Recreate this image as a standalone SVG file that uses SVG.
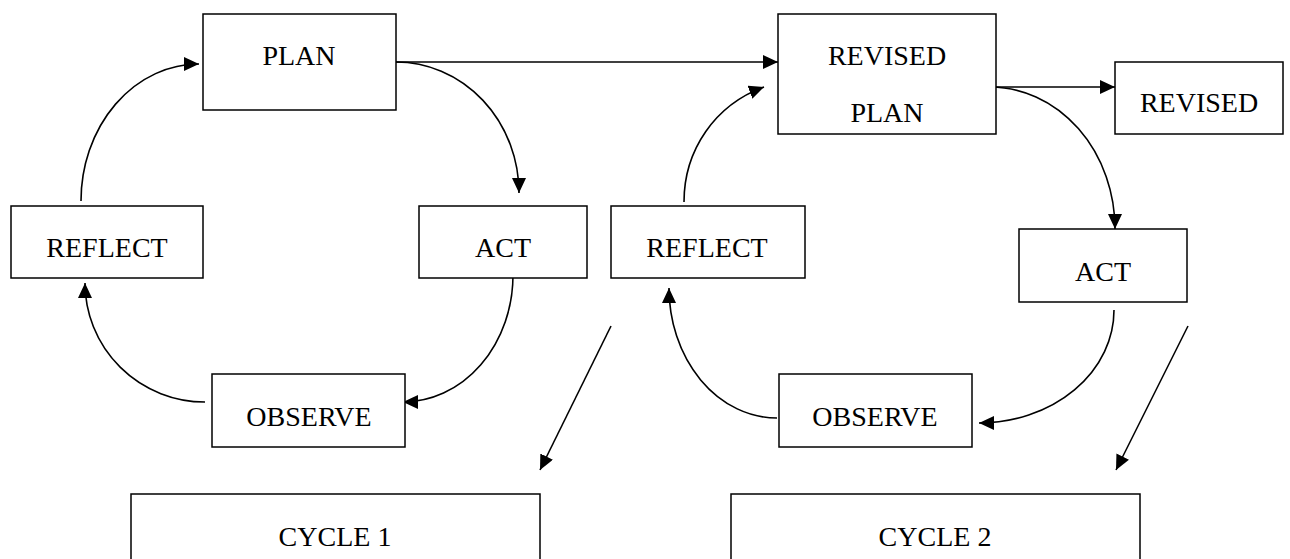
<svg xmlns="http://www.w3.org/2000/svg" width="1290" height="559" viewBox="0 0 1290 559">
<style>
.box{fill:#fff;stroke:#000;stroke-width:1.5}
.lbl{font-family:"Liberation Serif","Times New Roman",serif;font-size:28px;fill:#000;text-anchor:middle}
.con{fill:none;stroke:#000;stroke-width:1.6;marker-end:url(#ah)}
</style>
<defs>
<marker id="ah" markerUnits="userSpaceOnUse" markerWidth="16" markerHeight="15" refX="15" refY="7" orient="auto">
<path d="M0,0 L15,7 L0,14 Z" fill="#000"/>
</marker>
</defs>
<rect width="1290" height="559" fill="#fff"/>
<g id="connectors">
<path class="con" d="M396,62 L778,62"/>
<path class="con" d="M990,87 L1115,87"/>
<path class="con" d="M81,201 A118,137 0 0 1 199,64"/>
<path class="con" d="M396,62 A123,131 0 0 1 519,193"/>
<path class="con" d="M513,275 A110,127 0 0 1 403,402"/>
<path class="con" d="M205,402 A120,119 0 0 1 85,283"/>
<path class="con" d="M684,202 C684,150 715,105 764,87"/>
<path class="con" d="M990,87 A125,142 0 0 1 1115,229"/>
<path class="con" d="M1114,310 A135,113 0 0 1 979,423"/>
<path class="con" d="M777,418 A108,130 0 0 1 669,288"/>
<path class="con" d="M611,326 L540,470"/>
<path class="con" d="M1188,326 L1116,470"/>
</g>
<g id="plan"><rect class="box" x="203" y="14" width="193" height="96"/><text class="lbl" x="299" y="65">PLAN</text></g>
<g id="reflect1"><rect class="box" x="11" y="206" width="192" height="72"/><text class="lbl" x="107" y="257">REFLECT</text></g>
<g id="act1"><rect class="box" x="419" y="206" width="168" height="72"/><text class="lbl" x="503" y="257">ACT</text></g>
<g id="observe1"><rect class="box" x="212" y="374" width="193" height="73"/><text class="lbl" x="309" y="426">OBSERVE</text></g>
<g id="revised-plan"><rect class="box" x="778" y="14" width="218" height="120"/><text class="lbl" x="887" y="65">REVISED</text><text class="lbl" x="887" y="122">PLAN</text></g>
<g id="revised"><rect class="box" x="1115" y="62" width="168" height="72"/><text class="lbl" x="1199" y="112">REVISED</text></g>
<g id="reflect2"><rect class="box" x="611" y="206" width="194" height="72"/><text class="lbl" x="707" y="257">REFLECT</text></g>
<g id="act2"><rect class="box" x="1019" y="229" width="168" height="73"/><text class="lbl" x="1103" y="281">ACT</text></g>
<g id="observe2"><rect class="box" x="779" y="374" width="193" height="73"/><text class="lbl" x="875" y="426">OBSERVE</text></g>
<g id="cycle1"><rect class="box" x="131" y="494" width="409" height="90"/><text class="lbl" x="335" y="546">CYCLE 1</text></g>
<g id="cycle2"><rect class="box" x="731" y="494" width="409" height="90"/><text class="lbl" x="935" y="546">CYCLE 2</text></g>
</svg>
